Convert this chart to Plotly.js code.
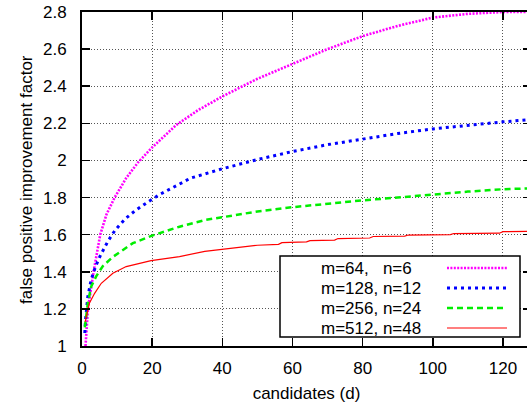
<!DOCTYPE html>
<html>
<head>
<meta charset="utf-8">
<script src="https://cdn.plot.ly/plotly-3.0.1.min.js"></script>
<style>
html,body{margin:0;padding:0;overflow:hidden;background:#fff;}
#chart{width:531px;height:408px;}
</style>
</head>
<body>
<div id="chart"></div>
<script>
// ---- data ----
const names = ["m=64,\u00a0\u00a0\u00a0n=6", "m=128, n=12", "m=256, n=24", "m=512, n=48"];

const x64 = [1, 1.7, 3.3, 5.2, 7, 9.3, 12.6, 16, 20, 26.8, 33, 40, 50, 60, 70, 80, 90, 100, 110, 120, 128];
const y64 = [1.0, 1.2, 1.4, 1.6, 1.71, 1.8, 1.905, 1.99, 2.07, 2.19, 2.27, 2.345, 2.44, 2.52, 2.6, 2.67, 2.725, 2.77, 2.79, 2.80, 2.80];

const x128 = [0.8, 1.0, 1.66, 2.6, 3.85, 5.3, 7.4, 9.5, 12.3, 15.2, 18.7, 22, 31, 40, 50, 60, 70, 80, 90, 100, 110, 120, 128];
const y128 = [1.07, 1.14, 1.266, 1.356, 1.428, 1.49, 1.565, 1.626, 1.685, 1.73, 1.775, 1.815, 1.905, 1.955, 2.005, 2.048, 2.085, 2.117, 2.145, 2.17, 2.19, 2.208, 2.22];

const x256 = [0.8, 1.66, 2.6, 4, 5.9, 8.8, 14.5, 20, 27.8, 35.4, 41, 50, 60, 70, 80, 90, 100, 110, 120, 128];
const y256 = [1.10, 1.23, 1.32, 1.374, 1.43, 1.48, 1.554, 1.595, 1.643, 1.68, 1.697, 1.725, 1.748, 1.768, 1.785, 1.80, 1.818, 1.832, 1.845, 1.85];

const x512 = [0.9, 1.2, 2.1, 3.6, 5.5, 8.8, 12.6, 19.7, 27.8, 35, 41.5, 44, 45, 49, 50, 56, 57, 64, 65, 72, 73, 82, 83, 92, 93, 105, 106, 119, 120, 128];
const y512 = [1.13, 1.158, 1.23, 1.284, 1.338, 1.392, 1.428, 1.46, 1.482, 1.51, 1.523, 1.527, 1.533, 1.537, 1.543, 1.548, 1.557, 1.561, 1.568, 1.571, 1.579, 1.582, 1.59, 1.592, 1.598, 1.600, 1.606, 1.608, 1.616, 1.618];

const xTicks = [0, 20, 40, 60, 80, 100, 120];
const yTicks = [1, 1.2, 1.4, 1.6, 1.8, 2, 2.2, 2.4, 2.6, 2.8];
const xTitle = "candidates (d)";
const yTitle = "false positive improvement factor";

// ---- styles ----
const styles = [
  {color: "#ff00ff", width: 2.6, dash: "2px,1.4px"},
  {color: "#0000ff", width: 3, dash: "3px,4px"},
  {color: "#00ee00", width: 2.5, dash: "6px,4px"},
  {color: "#ff0000", width: 1.2, dash: "solid"}
];
const xs = [x64, x128, x256, x512];
const ys = [y64, y128, y256, y512];

const traces = xs.map((x, i) => ({
  x: x, y: ys[i], name: names[i], type: "scatter", mode: "lines",
  line: {color: styles[i].color, width: styles[i].width, dash: styles[i].dash},
  hoverinfo: "skip"
}));

const FONT = "Liberation Sans, Arial, Helvetica, sans-serif";
const FS = 17;

// legend built by hand (text left, sample right, like the gnuplot key)
const W = 531, H = 408, ML = 82, MR = 0, MT = 12, MB = 62;
const pw = W - ML - MR, ph = H - MT - MB;
const px2x = p => (p - ML) / pw;
const py2y = p => (H - MB - p) / ph;

const shapes = [{
  type: "rect", xref: "paper", yref: "paper",
  x0: px2x(280), x1: px2x(520), y0: py2y(337), y1: py2y(256),
  line: {color: "black", width: 1.5}, fillcolor: "white", layer: "above"
}];
const annotations = [{
  xref: "paper", yref: "paper", x: px2x(26), y: py2y(180), xanchor: "center", yanchor: "middle",
  text: yTitle, textangle: -90, showarrow: false, font: {family: FONT, size: FS, color: "black"}
}];
names.forEach((n, i) => {
  const cy = py2y(268 + 20 * i);
  annotations.push({
    xref: "paper", yref: "paper", x: px2x(319), y: cy, xanchor: "left", yanchor: "middle",
    text: n, showarrow: false, font: {family: FONT, size: FS, color: "black"}
  });
  shapes.push({
    type: "line", xref: "paper", yref: "paper",
    x0: px2x(447), x1: px2x(507), y0: cy, y1: cy, layer: "above",
    line: {color: styles[i].color, width: styles[i].width, dash: styles[i].dash}
  });
});

const axisCommon = {
  ticks: "inside", ticklen: 8, tickwidth: 1.5, tickcolor: "black",
  showline: true, linecolor: "black", linewidth: 2, mirror: "ticks",
  showgrid: true, gridcolor: "#555", gridwidth: 1, griddash: "1px,2px",
  zeroline: false, automargin: false,
  tickfont: {family: FONT, size: FS, color: "black"}
};

const layout = {
  width: W, height: H,
  margin: {l: ML, r: MR, t: MT, b: MB, pad: 0},
  paper_bgcolor: "white", plot_bgcolor: "white",
  font: {family: FONT, size: FS, color: "black"},
  showlegend: false,
  xaxis: Object.assign({}, axisCommon, {
    range: [0, 128], tickvals: xTicks, ticktext: xTicks.map(String),
    ticklabelstandoff: 6,
    title: {text: xTitle, standoff: 10, font: {family: FONT, size: FS, color: "black"}}
  }),
  yaxis: Object.assign({}, axisCommon, {
    range: [1, 2.8], tickvals: yTicks, ticktext: yTicks.map(String),
    ticklabelstandoff: 10
  }),
  shapes: shapes,
  annotations: annotations
};

Plotly.newPlot("chart", traces, layout, {staticPlot: true, displayModeBar: false});
</script>
</body>
</html>
